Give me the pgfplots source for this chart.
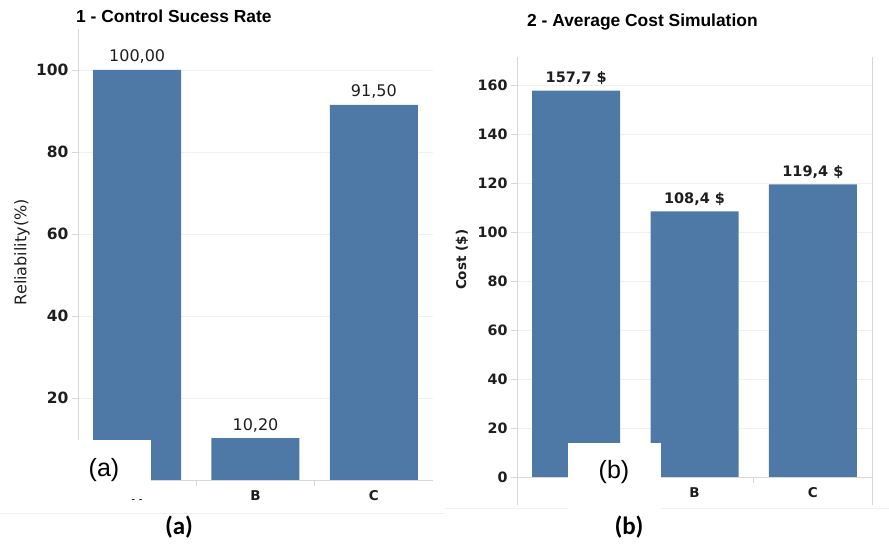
\documentclass[border=0pt]{standalone}
\usepackage{fontspec}
\setmainfont{DejaVu Sans}
\newfontfamily\arialf{Liberation Sans}
\newfontfamily\calibrif{Carlito}
\usepackage{pgfplots}
\usepackage{pgfplotstable}
\pgfplotsset{compat=1.18}
\definecolor{barblue}{RGB}{78,121,167}
\definecolor{gridc}{RGB}{240,240,240}
\definecolor{axc}{RGB}{215,215,215}
\definecolor{txt}{RGB}{30,30,30}

\pgfplotstableread[col sep=semicolon]{
x;y;lab
0;100;100,00
1;10.2;10,20
2;91.5;91,50
}\reltable

\pgfplotstableread[col sep=semicolon]{
x;y;lab
0;157.7;157,7 \$
1;108.4;108,4 \$
2;119.4;119,4 \$
}\costtable

\pgfplotsset{
  common/.style={
    scale only axis,
    anchor=south west,
    xmin=-0.5, xmax=2.5, ymin=0,
    ybar, bar width=88pt,
    axis line style={draw=none},
    ymajorgrids, major grid style={gridc, line width=0.8pt},
    tick style={axc, line width=0.6pt},
    tick align=outside, major tick length=6pt,
    xtick pos=bottom, ytick pos=left,
    xtick={0.5,1.5}, xticklabels={},
    extra x ticks={0,1,2}, extra x tick labels={A,B,C},
    extra x tick style={major tick length=0pt, grid=none,
      xticklabel style={yshift=-7pt}},
    /pgf/number format/assume math mode=true,
    yticklabel style={text=txt},
    xticklabel style={text=txt, font=\bfseries\fontsize{13.5}{14}\selectfont},
    point meta=explicit symbolic,
    nodes near coords,
    nodes near coords style={anchor=base, yshift=8pt, text=txt},
  }
}

\begin{document}
\begin{tikzpicture}[x=1pt,y=1pt]
\path[use as bounding box] (0,0) rectangle (889,547);

% left panel
\begin{axis}[common,
  at={(78pt,67pt)}, width=355pt, height=451pt,
  ymax=110, ytick={20,40,60,80,100},
  yticklabel style={font=\bfseries\fontsize{15.5}{16}\selectfont},
  nodes near coords style={font=\fontsize{16}{17}\selectfont},
  ylabel={Reliability(\%)},
  every axis y label/.style={at={(axis description cs:-0.158,0.505)}, rotate=90, anchor=center,
    font=\fontsize{16}{17}\selectfont, text=txt},
]
\addplot[fill=barblue, draw=none] table[x=x, y=y, meta=lab] {\reltable};
\draw[axc, line width=0.8pt] (rel axis cs:0,0) -- (rel axis cs:0,1);
\draw[axc, line width=0.8pt] (rel axis cs:0,0) -- (rel axis cs:1,0);
\end{axis}

% right panel
\begin{axis}[common,
  at={(517pt,70pt)}, width=355pt, height=420pt,
  ymax=171.4, ytick={0,20,...,160},
  yticklabel style={font=\bfseries\fontsize{14.3}{15}\selectfont},
  nodes near coords style={font=\bfseries\fontsize{14.5}{15}\selectfont},
  ylabel={Cost (\$)},
  every axis y label/.style={at={(axis description cs:-0.155,0.517)}, rotate=90, anchor=center,
    font=\bfseries\fontsize{13.5}{14}\selectfont, text=txt},
  clip=false,
]
\addplot[fill=barblue, draw=none] table[x=x, y=y, meta=lab] {\costtable};
\draw[axc, line width=0.8pt] (rel axis cs:0,0) -- (rel axis cs:1,0);
\draw[axc, line width=0.8pt] ([yshift=-28pt]rel axis cs:0,0) -- (rel axis cs:0,1);
\draw[axc, line width=0.8pt] ([yshift=-28pt]rel axis cs:1,0) -- (rel axis cs:1,1);
\end{axis}

% titles
\node[anchor=base west, font=\arialf\bfseries\fontsize{17.4}{17.4}\selectfont, text=black, inner sep=0pt]
  at (76,524) {1 - Control Sucess Rate};
\node[anchor=base west, font=\arialf\bfseries\fontsize{17.4}{17.4}\selectfont, text=black, inner sep=0pt]
  at (527,520) {2 - Average Cost Simulation};

% faint separators
\draw[gray!12, line width=0.8pt] (0,34) -- (445,34);
\draw[gray!12, line width=0.8pt] (445,39) -- (889,39);

% white overlay boxes
\fill[white] (0,107) rectangle (151,48);
\fill[white] (568,104) rectangle (661,32);
\fill[white] (147,33) rectangle (210,0);
\fill[white] (597,38) rectangle (661,0);
\node[font=\arialf\fontsize{25}{25}\selectfont, text=black] at (104,77) {(a)};
\node[font=\arialf\fontsize{25}{25}\selectfont, text=black] at (614,75) {(b)};

% bottom labels
\node[font=\calibrif\bfseries\fontsize{25}{25}\selectfont, text=black] at (179,20) {(a)};
\node[font=\calibrif\bfseries\fontsize{25}{25}\selectfont, text=black] at (629,20) {(b)};
\end{tikzpicture}
\end{document}
